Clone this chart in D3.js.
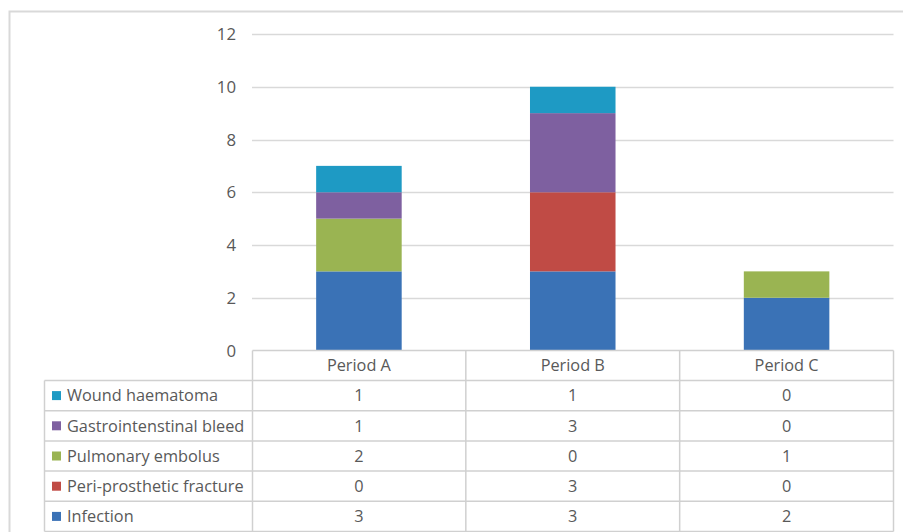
<!DOCTYPE html>
<html><head><meta charset="utf-8">
<script src="https://cdn.jsdelivr.net/npm/d3@7"></script>
<style>body{margin:0;background:#fff;} svg{display:block;}</style>
</head><body>
<svg id="c" width="903" height="532"></svg>
<script>
const categories = ["Period A", "Period B", "Period C"];
const seriesNames = ["Infection", "Peri-prosthetic fracture", "Pulmonary embolus", "Gastrointenstinal bleed", "Wound haematoma"];
const infection = [3, 3, 2];
const periProstheticFracture = [0, 3, 0];
const pulmonaryEmbolus = [2, 0, 1];
const giBleed = [1, 3, 0];
const woundHaematoma = [1, 1, 0];
const yTicks = [0, 2, 4, 6, 8, 10, 12];
const colors = ["#3a72b6", "#c04b45", "#9ab452", "#7e60a0", "#1e9ac4"];

const seriesValues = [infection, periProstheticFracture, pulmonaryEmbolus, giBleed, woundHaematoma];
const rows = categories.map((c, i) => {
  const o = {cat: c};
  seriesNames.forEach((s, j) => o[s] = seriesValues[j][i]);
  return o;
});

const svg = d3.select("#c");
const font = "'Open Sans', 'Liberation Sans', Arial, sans-serif";
const textCol = "#595959";
const fs = 16.3;

// outer chart border
svg.append("rect").attr("x", 9.5).attr("y", 11.5).attr("width", 1000).attr("height", 1000)
  .attr("fill", "none").attr("stroke", "#d9d9d9").attr("stroke-width", 2);

const x = d3.scaleBand().domain(categories).range([252, 893.5]).paddingInner(0.6).paddingOuter(0.3);
const y = d3.scaleLinear().domain([0, 12]).range([350.5, 34]);

// gridlines
svg.append("g").selectAll("line").data(yTicks.filter(t => t > 0)).join("line")
  .attr("x1", 252).attr("x2", 893.5)
  .attr("y1", d => Math.round(y(d)) + 0.5).attr("y2", d => Math.round(y(d)) + 0.5)
  .attr("stroke", "#d9d9d9").attr("stroke-width", 1.3);

// y axis labels
const yAxis = d3.axisLeft(y).tickValues(yTicks).tickSize(0).tickPadding(0);
const ya = svg.append("g").attr("transform", "translate(236,0)").call(yAxis);
ya.select(".domain").remove();
ya.selectAll("text").attr("font-family", font).attr("font-size", 16.8).attr("fill", textCol).attr("dy", "0.34em");

// stacked bars
const stack = d3.stack().keys(seriesNames)(rows);
svg.append("g").selectAll("g").data(stack).join("g")
  .attr("fill", (d, i) => colors[i])
  .selectAll("rect").data(d => d).join("rect")
  .attr("x", d => x(d.data.cat))
  .attr("width", x.bandwidth())
  .attr("y", d => y(d[1]))
  .attr("height", d => y(d[0]) - y(d[1]));

// data table
const tableTop = 350.5, headerH = 30, rowH = 30.2;
const labelLeft = 44.5, plotLeft = 252.5, plotRight = 893.5;
const tableRows = seriesNames.slice().reverse();
const lineCol = "#d0d0d0";
const tg = svg.append("g");
const tableBottom = tableTop + headerH + rowH * tableRows.length;
tg.append("line").attr("x1", plotLeft).attr("x2", plotRight).attr("y1", tableTop).attr("y2", tableTop)
  .attr("stroke", lineCol).attr("stroke-width", 1.5);
for (let i = 0; i <= tableRows.length; i++) {
  const yy = tableTop + headerH + rowH * i;
  tg.append("line").attr("x1", labelLeft).attr("x2", plotRight).attr("y1", yy).attr("y2", yy)
    .attr("stroke", lineCol).attr("stroke-width", 1.5);
}
tg.append("line").attr("x1", labelLeft).attr("x2", labelLeft).attr("y1", tableTop + headerH).attr("y2", tableBottom)
  .attr("stroke", lineCol).attr("stroke-width", 1.5);
const colEdges = [plotLeft].concat(categories.map(c => x(c) + x.bandwidth() + x.step() * x.paddingInner() / 2));
colEdges[colEdges.length - 1] = plotRight;
colEdges.forEach(e => tg.append("line").attr("x1", e).attr("x2", e).attr("y1", tableTop).attr("y2", tableBottom)
  .attr("stroke", lineCol).attr("stroke-width", 1.5));

tg.selectAll("text.h").data(categories).join("text").attr("class", "h")
  .attr("x", d => x(d) + x.bandwidth() / 2).attr("y", tableTop + headerH / 2)
  .attr("dy", "0.36em").attr("text-anchor", "middle")
  .attr("font-family", font).attr("font-size", fs).attr("fill", textCol).text(d => d);

tableRows.forEach((s, i) => {
  const cy = tableTop + headerH + rowH * i + rowH / 2;
  const ci = seriesNames.indexOf(s);
  tg.append("rect").attr("x", 52).attr("y", cy - 4.5).attr("width", 9).attr("height", 9).attr("fill", colors[ci]);
  tg.append("text").attr("x", 67).attr("y", cy).attr("dy", "0.36em")
    .attr("font-family", font).attr("font-size", fs).attr("fill", textCol).text(s);
  categories.forEach((c, k) => {
    tg.append("text").attr("x", x(c) + x.bandwidth() / 2).attr("y", cy).attr("dy", "0.36em")
      .attr("text-anchor", "middle").attr("font-family", font).attr("font-size", fs).attr("fill", textCol)
      .text(seriesValues[ci][k]);
  });
});
</script>
</body></html>
